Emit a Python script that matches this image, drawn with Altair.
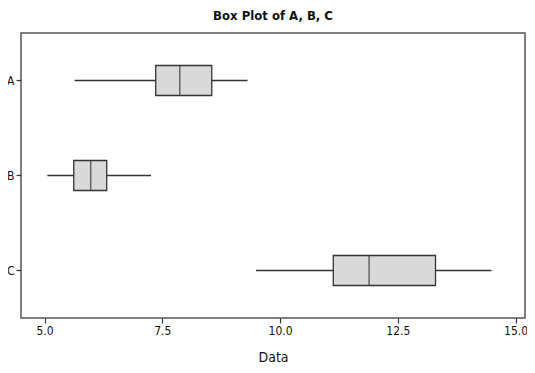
import altair as alt
import pandas as pd

categories = ["A", "B", "C"]
whisker_low = [5.64, 5.06, 9.49]
q1 = [7.36, 5.62, 11.13]
median = [7.87, 5.98, 11.89]
q3 = [8.55, 6.32, 13.30]
whisker_high = [9.31, 7.26, 14.49]
x_ticks = [5.0, 7.5, 10.0, 12.5, 15.0]

df = pd.DataFrame({
    "cat": categories,
    "lo": whisker_low,
    "q1": q1,
    "med": median,
    "q3": q3,
    "hi": whisker_high,
})

FONT = "DejaVu Sans Condensed, Liberation Sans Narrow, Liberation Sans, sans-serif"

xscale = alt.Scale(domain=[4.5, 15.2], nice=False, zero=False)
yscale = alt.Scale(domain=categories, paddingInner=0, paddingOuter=0)

xenc = alt.X("lo:Q", scale=xscale, title="Data",
             axis=alt.Axis(values=x_ticks, format=".1f", domain=False, grid=False,
                           tickSize=5, tickColor="#333", tickWidth=1.2,
                           labelPadding=2, labelFontSize=12, labelColor="#111",
                           labelFont=FONT, titleFont=FONT, titleFontSize=14,
                           titleFontWeight="normal", titleColor="#111", titlePadding=14))
yenc = alt.Y("cat:N", scale=yscale, title=None,
             axis=alt.Axis(domain=False, grid=False, tickSize=5, tickColor="#333",
                           tickWidth=1.2, labelPadding=2, labelFontSize=12,
                           labelColor="#111", labelFont=FONT, labelAngle=0))

base = alt.Chart(df)

whisk = base.mark_rule(color="#333", strokeWidth=1.3).encode(
    x=xenc, x2="hi:Q", y=yenc)
box = base.mark_bar(fill="#d9d9d9", stroke="#333", strokeWidth=1.3, size=30).encode(
    x=alt.X("q1:Q", scale=xscale), x2="q3:Q", y=alt.Y("cat:N", scale=yscale))
med = base.mark_tick(color="#333", size=30, thickness=1.5, orient="vertical").encode(
    x=alt.X("med:Q", scale=xscale), y=alt.Y("cat:N", scale=yscale))

chart = alt.layer(whisk, box, med).properties(
    width=504, height=285,
    autosize=alt.AutoSizeParams(type="none"),
    padding={"left": 13, "top": 25, "right": 2, "bottom": 47},
    title=alt.TitleParams("Box Plot of A, B, C", font=FONT, fontSize=13,
                          fontWeight="bold", color="#111", offset=10, anchor="middle"),
).configure_view(stroke="#555", strokeWidth=1.5)

chart.save("out.html", embed_options={"renderer": "svg", "actions": False})
